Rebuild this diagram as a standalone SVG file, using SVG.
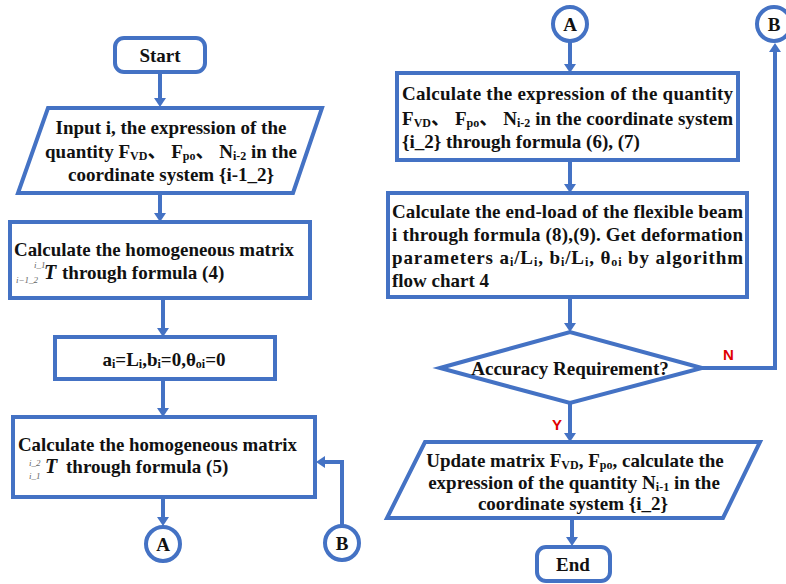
<svg xmlns="http://www.w3.org/2000/svg" width="786" height="584" viewBox="0 0 786 584">
<defs>
<marker id="ah" markerUnits="userSpaceOnUse" markerWidth="10" markerHeight="12" refX="0" refY="6" orient="auto">
<path d="M0,0 L9,6 L0,12 z" fill="#4472C4"/>
</marker>
</defs>
<style>
.box{fill:#fff;stroke:#4472C4;stroke-width:4}
.c{fill:none;stroke:#4472C4;stroke-width:4}
.t{font-family:"Liberation Serif","Noto Sans CJK SC",serif;font-weight:bold;font-size:19px;fill:#111}
.m{text-anchor:middle}
.s{font-size:12px}
.pre{font-family:"Liberation Serif",serif;font-style:italic;font-size:9px;fill:#666}
.T{font-family:"Liberation Serif",serif;font-style:italic;font-weight:bold;font-size:20px;fill:#111}
.lab{font-family:"Liberation Sans",Arial,sans-serif;font-weight:bold;font-size:15px;fill:#e00000}
</style>
<rect width="786" height="584" fill="#fff"/>

<g id="connectors">
<line class="c" x1="160" y1="72" x2="160" y2="98" marker-end="url(#ah)"/>
<line class="c" x1="160" y1="193" x2="160" y2="213" marker-end="url(#ah)"/>
<line class="c" x1="163" y1="298" x2="163" y2="328" marker-end="url(#ah)"/>
<line class="c" x1="163" y1="379" x2="163" y2="408" marker-end="url(#ah)"/>
<line class="c" x1="163" y1="497" x2="163" y2="517" marker-end="url(#ah)"/>
<polyline class="c" points="342,525 342,462 325,462" marker-end="url(#ah)"/>
<line class="c" x1="570" y1="42" x2="570" y2="64" marker-end="url(#ah)"/>
<line class="c" x1="570" y1="160" x2="570" y2="184" marker-end="url(#ah)"/>
<line class="c" x1="570" y1="297" x2="570" y2="323" marker-end="url(#ah)"/>
<polyline class="c" points="702,368 775,368 775,52" marker-end="url(#ah)"/>
<line class="c" x1="570" y1="402" x2="570" y2="433" marker-end="url(#ah)"/>
<line class="c" x1="572" y1="518" x2="572" y2="537" marker-end="url(#ah)"/>
<text class="lab" x="723" y="360">N</text>
<text class="lab" x="552" y="430">Y</text>
</g>

<g id="start">
<rect class="box" x="115" y="38" width="90" height="34" rx="9"/>
<text class="t m" x="160" y="62">Start</text>
</g>

<g id="input">
<polygon class="box" points="48,108 322,108 293,193 18,193"/>
<text class="t m" x="171" y="134">Input i, the expression of the</text>
<text class="t m" x="171" y="158">quantity F<tspan class="s" dy="2">VD</tspan><tspan dy="-2">、 F</tspan><tspan class="s" dy="2">po</tspan><tspan dy="-2">、 N</tspan><tspan class="s" dy="2">i-2</tspan><tspan dy="-2"> in the</tspan></text>
<text class="t m" x="171" y="181">coordinate system {i-1_2}</text>
</g>

<g id="matrix4">
<rect class="box" x="10" y="222" width="300" height="76"/>
<text class="t" x="14" y="256" textLength="280" lengthAdjust="spacingAndGlyphs">Calculate the homogeneous matrix</text>
<text class="pre" x="34" y="268">i_1</text>
<text class="pre" x="16" y="283">i−1_2</text>
<text class="T" x="44" y="279">T</text>
<text class="t" x="62" y="279">through formula (4)</text>
</g>

<g id="init">
<rect class="box" x="55" y="337" width="220" height="42"/>
<text class="t m" x="164" y="366">a<tspan class="s" dy="2">i</tspan><tspan dy="-2">=L</tspan><tspan class="s" dy="2">i</tspan><tspan dy="-2">,b</tspan><tspan class="s" dy="2">i</tspan><tspan dy="-2">=0,θ</tspan><tspan class="s" dy="2">oi</tspan><tspan dy="-2">=0</tspan></text>
</g>

<g id="matrix5">
<rect class="box" x="13" y="417" width="302" height="80"/>
<text class="t" x="18" y="451" textLength="279" lengthAdjust="spacingAndGlyphs">Calculate the homogeneous matrix</text>
<text class="pre" x="29" y="466">i_2</text>
<text class="pre" x="29" y="479">i_1</text>
<text class="T" x="45" y="473">T</text>
<text class="t" x="66" y="473">through formula (5)</text>
</g>

<g id="connA1">
<circle class="box" cx="163" cy="544" r="17"/>
<text class="t m" x="163" y="551">A</text>
</g>

<g id="connB1">
<circle class="box" cx="342" cy="543" r="17"/>
<text class="t m" x="342" y="550">B</text>
</g>

<g id="connA2">
<circle class="box" cx="570" cy="24" r="17"/>
<text class="t m" x="570" y="31">A</text>
</g>

<g id="connB2">
<circle class="box" cx="774" cy="24" r="17"/>
<text class="t m" x="774" y="31">B</text>
</g>

<g id="expr">
<rect class="box" x="397" y="73" width="341" height="87"/>
<text class="t" x="402" y="100" textLength="331" lengthAdjust="spacing">Calculate the expression of the quantity</text>
<text class="t" x="402" y="125" textLength="331" lengthAdjust="spacing">F<tspan class="s" dy="2">VD</tspan><tspan dy="-2">、 F</tspan><tspan class="s" dy="2">po</tspan><tspan dy="-2">、 N</tspan><tspan class="s" dy="2">i-2</tspan><tspan dy="-2"> in the coordinate system</tspan></text>
<text class="t" x="402" y="148">{i_2} through formula (6), (7)</text>
</g>

<g id="endload">
<rect class="box" x="388" y="193" width="359" height="104"/>
<text class="t" x="392" y="218" textLength="351" lengthAdjust="spacing">Calculate the end-load of the flexible beam</text>
<text class="t" x="392" y="241" textLength="351" lengthAdjust="spacing">i through formula (8),(9). Get deformation</text>
<text class="t" x="392" y="264" textLength="351" lengthAdjust="spacing">parameters a<tspan class="s" dy="2">i</tspan><tspan dy="-2">/L</tspan><tspan class="s" dy="2">i</tspan><tspan dy="-2">, b</tspan><tspan class="s" dy="2">i</tspan><tspan dy="-2">/L</tspan><tspan class="s" dy="2">i</tspan><tspan dy="-2">, θ</tspan><tspan class="s" dy="2">oi</tspan><tspan dy="-2"> by algorithm</tspan></text>
<text class="t" x="392" y="287">flow chart 4</text>
</g>

<g id="accuracy">
<polygon class="box" points="440,368 570,332 702,368 570,403"/>
<text class="t m" x="570" y="375">Accuracy Requirement?</text>
</g>

<g id="update">
<polygon class="box" points="425,442 760,442 723,518 387,518"/>
<text class="t m" x="575" y="467">Update matrix F<tspan class="s" dy="2">VD</tspan><tspan dy="-2">, F</tspan><tspan class="s" dy="2">po</tspan><tspan dy="-2">, calculate the</tspan></text>
<text class="t m" x="574" y="489">expression of the quantity N<tspan class="s" dy="2">i-1</tspan><tspan dy="-2"> in the</tspan></text>
<text class="t m" x="573" y="510">coordinate system {i_2}</text>
</g>

<g id="end">
<rect class="box" x="537" y="547" width="73" height="34" rx="9"/>
<text class="t m" x="573" y="571">End</text>
</g>
</svg>
